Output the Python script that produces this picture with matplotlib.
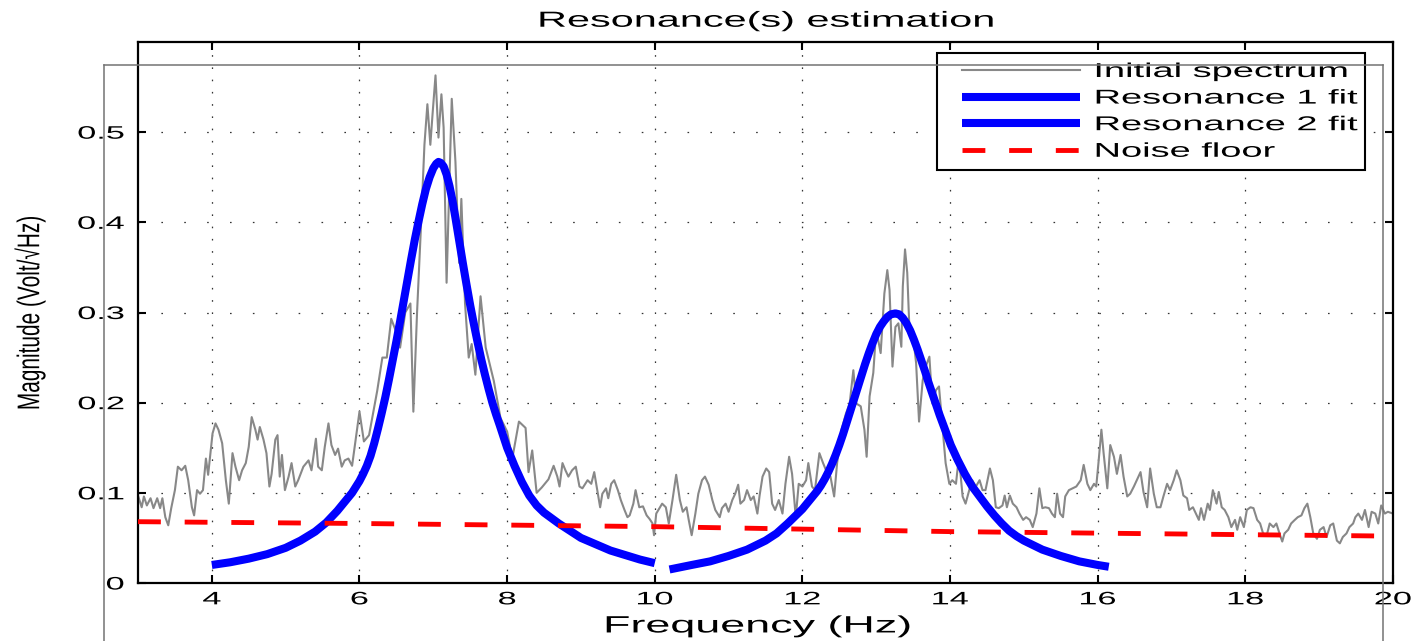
import numpy as np
import matplotlib
matplotlib.use('Agg')
import matplotlib.pyplot as plt
from matplotlib.patheffects import AbstractPathEffect
from matplotlib.transforms import Affine2D
from matplotlib.legend_handler import HandlerLine2D
from matplotlib.lines import Line2D

plt.rcParams['font.family'] = ['Liberation Sans', 'DejaVu Sans']

# ---------------- data ----------------
freq = [3.00, 3.05, 3.08, 3.12, 3.17, 3.21, 3.26, 3.30, 3.33, 3.37, 3.41, 3.45, 3.50, 3.54, 3.59, 3.64,
        3.68, 3.73, 3.76, 3.80, 3.84, 3.88, 3.92, 3.95, 4.01, 4.05, 4.09, 4.14, 4.19, 4.23, 4.28, 4.32,
        4.37, 4.41, 4.46, 4.50, 4.54, 4.59, 4.62, 4.65, 4.70, 4.74, 4.78, 4.81, 4.86, 4.89, 4.92, 4.95,
        4.99, 5.04, 5.08, 5.13, 5.17, 5.24, 5.31, 5.35, 5.41, 5.44, 5.49, 5.53, 5.58, 5.62, 5.67, 5.71,
        5.76, 5.80, 5.85, 5.90, 6.00, 6.06, 6.13, 6.24, 6.31, 6.37, 6.43, 6.49, 6.55, 6.62, 6.69, 6.73,
        6.78, 6.83, 6.88, 6.92, 6.96, 6.99, 7.03, 7.07, 7.11, 7.14, 7.18, 7.25, 7.30, 7.35, 7.38, 7.43,
        7.48, 7.52, 7.57, 7.64, 7.71, 7.82, 7.91, 8.00, 8.07, 8.16, 8.25, 8.29, 8.34, 8.40, 8.47, 8.56,
        8.63, 8.68, 8.71, 8.75, 8.79, 8.83, 8.88, 8.93, 8.98, 9.02, 9.09, 9.14, 9.18, 9.23, 9.26, 9.29,
        9.34, 9.37, 9.41, 9.45, 9.50, 9.54, 9.59, 9.63, 9.66, 9.71, 9.74, 9.79, 9.84, 9.89, 9.93, 9.97,
        9.99, 10.02, 10.07, 10.10, 10.15, 10.19, 10.24, 10.29, 10.34, 10.38, 10.43, 10.46, 10.50, 10.55,
        10.59, 10.64, 10.68, 10.73, 10.78, 10.82, 10.88, 10.91, 10.96, 11.00, 11.05, 11.09, 11.13, 11.16,
        11.21, 11.25, 11.30, 11.34, 11.39, 11.42, 11.46, 11.51, 11.55, 11.59, 11.63, 11.68, 11.73, 11.77,
        11.82, 11.86, 11.91, 11.95, 12.00, 12.05, 12.08, 12.13, 12.17, 12.23, 12.28, 12.34, 12.38, 12.43,
        12.47, 12.53, 12.59, 12.64, 12.69, 12.73, 12.79, 12.84, 12.87, 12.91, 12.96, 13.00, 13.06, 13.11,
        13.15, 13.18, 13.22, 13.26, 13.30, 13.34, 13.36, 13.39, 13.42, 13.45, 13.50, 13.54, 13.58, 13.63,
        13.67, 13.72, 13.76, 13.81, 13.85, 13.90, 13.94, 13.99, 14.03, 14.08, 14.12, 14.17, 14.21, 14.26,
        14.30, 14.35, 14.40, 14.44, 14.48, 14.54, 14.58, 14.62, 14.66, 14.71, 14.74, 14.77, 14.81, 14.85,
        14.90, 14.94, 14.99, 15.03, 15.08, 15.12, 15.17, 15.21, 15.25, 15.29, 15.34, 15.38, 15.42, 15.45,
        15.49, 15.53, 15.56, 15.61, 15.66, 15.71, 15.77, 15.81, 15.86, 15.90, 15.95, 15.98, 16.01, 16.05,
        16.08, 16.13, 16.17, 16.22, 16.26, 16.31, 16.35, 16.40, 16.44, 16.49, 16.53, 16.58, 16.62, 16.67,
        16.71, 16.76, 16.80, 16.85, 16.89, 16.94, 16.98, 17.03, 17.07, 17.12, 17.16, 17.21, 17.24, 17.29,
        17.33, 17.37, 17.40, 17.44, 17.49, 17.52, 17.56, 17.61, 17.64, 17.68, 17.72, 17.77, 17.81, 17.86,
        17.89, 17.93, 17.98, 18.02, 18.07, 18.11, 18.16, 18.20, 18.24, 18.29, 18.33, 18.38, 18.42, 18.47,
        18.50, 18.53, 18.58, 18.62, 18.67, 18.71, 18.76, 18.80, 18.84, 18.88, 18.92, 18.97, 19.01, 19.06,
        19.10, 19.15, 19.19, 19.24, 19.28, 19.32, 19.37, 19.41, 19.46, 19.49, 19.53, 19.58, 19.62, 19.67,
        19.71, 19.76, 19.80, 19.84, 19.89, 19.93, 20.00]
spectrum = [0.097, 0.084, 0.096, 0.086, 0.094, 0.083, 0.094, 0.083, 0.094, 0.073, 0.064, 0.083, 0.103, 0.129, 0.125, 0.130,
            0.114, 0.084, 0.075, 0.103, 0.099, 0.103, 0.138, 0.120, 0.166, 0.177, 0.170, 0.155, 0.114, 0.088, 0.144, 0.129,
            0.114, 0.125, 0.133, 0.151, 0.184, 0.170, 0.159, 0.173, 0.159, 0.144, 0.107, 0.121, 0.159, 0.164, 0.118, 0.142,
            0.103, 0.118, 0.133, 0.107, 0.114, 0.129, 0.136, 0.125, 0.160, 0.129, 0.125, 0.151, 0.177, 0.153, 0.142, 0.149,
            0.129, 0.136, 0.138, 0.130, 0.190, 0.157, 0.164, 0.213, 0.250, 0.250, 0.293, 0.280, 0.261, 0.300, 0.310, 0.190,
            0.300, 0.390, 0.486, 0.531, 0.486, 0.520, 0.563, 0.494, 0.542, 0.505, 0.333, 0.537, 0.467, 0.355, 0.426, 0.310,
            0.250, 0.265, 0.231, 0.318, 0.261, 0.224, 0.183, 0.168, 0.138, 0.179, 0.172, 0.123, 0.147, 0.100, 0.106, 0.115,
            0.130, 0.118, 0.107, 0.133, 0.125, 0.118, 0.125, 0.129, 0.107, 0.105, 0.114, 0.110, 0.123, 0.099, 0.084, 0.099,
            0.105, 0.094, 0.110, 0.114, 0.103, 0.092, 0.081, 0.073, 0.075, 0.088, 0.103, 0.084, 0.085, 0.075, 0.071, 0.066,
            0.053, 0.077, 0.084, 0.088, 0.084, 0.066, 0.092, 0.120, 0.092, 0.079, 0.084, 0.070, 0.053, 0.077,
            0.099, 0.114, 0.118, 0.109, 0.092, 0.081, 0.073, 0.083, 0.088, 0.079, 0.092, 0.099, 0.109, 0.088,
            0.092, 0.103, 0.092, 0.096, 0.077, 0.097, 0.118, 0.127, 0.123, 0.088, 0.081, 0.092, 0.077, 0.110,
            0.140, 0.121, 0.073, 0.110, 0.107, 0.114, 0.133, 0.107, 0.103, 0.144, 0.133, 0.121, 0.118, 0.096,
            0.133, 0.170, 0.188, 0.199, 0.236, 0.199, 0.196, 0.170, 0.140, 0.207, 0.233, 0.281, 0.255, 0.321,
            0.347, 0.325, 0.240, 0.284, 0.288, 0.262, 0.329, 0.370, 0.344, 0.281, 0.273, 0.244, 0.179, 0.225,
            0.240, 0.251, 0.199, 0.214, 0.218, 0.170, 0.133, 0.110, 0.114, 0.110, 0.140, 0.096, 0.088, 0.103,
            0.114, 0.107, 0.114, 0.103, 0.103, 0.127, 0.114, 0.084, 0.083, 0.086, 0.097, 0.084, 0.097, 0.088,
            0.084, 0.077, 0.070, 0.073, 0.070, 0.062, 0.077, 0.105, 0.083, 0.084, 0.083, 0.077, 0.073, 0.099,
            0.077, 0.073, 0.096, 0.103, 0.105, 0.107, 0.114, 0.131, 0.110, 0.103, 0.110, 0.107, 0.133, 0.170,
            0.144, 0.105, 0.153, 0.140, 0.121, 0.142, 0.118, 0.096, 0.099, 0.107, 0.114, 0.123, 0.101, 0.084,
            0.127, 0.099, 0.084, 0.084, 0.096, 0.110, 0.103, 0.114, 0.125, 0.114, 0.097, 0.094, 0.081, 0.084,
            0.077, 0.070, 0.083, 0.070, 0.088, 0.081, 0.103, 0.088, 0.101, 0.084, 0.081, 0.073, 0.062, 0.070,
            0.059, 0.073, 0.062, 0.081, 0.084, 0.083, 0.070, 0.066, 0.055, 0.053, 0.066, 0.062, 0.066, 0.053,
            0.046, 0.055, 0.059, 0.066, 0.070, 0.073, 0.075, 0.083, 0.088, 0.073, 0.055, 0.049, 0.059, 0.062,
            0.051, 0.064, 0.066, 0.047, 0.044, 0.051, 0.055, 0.062, 0.066, 0.073, 0.077, 0.070, 0.081, 0.062,
            0.079, 0.077, 0.066, 0.086, 0.077, 0.079, 0.077]

fit1_freq = [4.0, 4.25, 4.5, 4.75, 5.0, 5.2, 5.4, 5.55, 5.7, 5.8, 5.9, 6.0, 6.05, 6.1, 6.15, 6.2, 6.25,
             6.3, 6.35, 6.4, 6.45, 6.5, 6.55, 6.6, 6.65, 6.7, 6.75, 6.8, 6.85, 6.9, 6.95, 7.0, 7.04,
             7.07, 7.1, 7.14, 7.18, 7.22, 7.26, 7.3, 7.35, 7.4, 7.45, 7.5, 7.55, 7.6, 7.65, 7.7, 7.75,
             7.8, 7.85, 7.9, 8.0, 8.1, 8.2, 8.3, 8.4, 8.5, 8.6, 8.7, 8.85, 9.0, 9.2, 9.4, 9.6, 9.8, 10.0]
fit1_mag = [0.020, 0.023, 0.027, 0.032, 0.039, 0.047, 0.057, 0.067, 0.080, 0.090, 0.100, 0.113, 0.121,
            0.130, 0.141, 0.155, 0.171, 0.188, 0.206, 0.226, 0.247, 0.268, 0.290, 0.313, 0.336, 0.359,
            0.381, 0.401, 0.420, 0.437, 0.450, 0.460, 0.465, 0.467, 0.466, 0.462, 0.453, 0.440, 0.424,
            0.405, 0.380, 0.355, 0.331, 0.308, 0.287, 0.267, 0.248, 0.231, 0.215, 0.200, 0.187, 0.175,
            0.150, 0.130, 0.112, 0.097, 0.086, 0.078, 0.072, 0.066, 0.058, 0.050, 0.043, 0.036, 0.031,
            0.026, 0.022]

fit2_freq = [10.2, 10.5, 10.75, 11.0, 11.25, 11.5, 11.65, 11.8, 11.9, 12.0, 12.1, 12.2, 12.25, 12.3,
             12.35, 12.4, 12.45, 12.5, 12.55, 12.6, 12.65, 12.7, 12.75, 12.8, 12.85, 12.9, 12.95, 13.0,
             13.05, 13.1, 13.15, 13.2, 13.26, 13.31, 13.36, 13.41, 13.46, 13.51, 13.56, 13.61, 13.66,
             13.71, 13.76, 13.81, 13.86, 13.91, 13.96, 14.01, 14.1, 14.2, 14.3, 14.4, 14.5, 14.6, 14.7,
             14.8, 14.9, 15.0, 15.25, 15.5, 15.75, 16.0, 16.15]
fit2_mag = [0.015, 0.020, 0.024, 0.030, 0.037, 0.047, 0.055, 0.066, 0.074, 0.082, 0.092, 0.102, 0.108,
            0.115, 0.123, 0.132, 0.142, 0.153, 0.165, 0.178, 0.191, 0.204, 0.217, 0.230, 0.243, 0.255,
            0.266, 0.276, 0.284, 0.290, 0.295, 0.298, 0.299, 0.298, 0.294, 0.288, 0.280, 0.270, 0.259,
            0.247, 0.235, 0.222, 0.210, 0.198, 0.186, 0.175, 0.164, 0.153, 0.137, 0.121, 0.107, 0.096,
            0.085, 0.075, 0.066, 0.058, 0.052, 0.047, 0.037, 0.030, 0.024, 0.020, 0.018]

noise_freq = [3, 6, 10, 14, 18, 20]
noise_mag = [0.068, 0.066, 0.0625, 0.057, 0.0536, 0.052]

xticks = [4, 6, 8, 10, 12, 14, 16, 18, 20]
yticks = [0, 0.1, 0.2, 0.3, 0.4, 0.5]
ytick_labels = ['0', '0.1', '0.2', '0.3', '0.4', '0.5']
labels = ['Initial spectrum', 'Resonance 1 fit', 'Resonance 2 fit', 'Noise floor']

STRETCH = 1.9


class Stretch(AbstractPathEffect):
    """Widen glyphs along their baseline (sx) or across it (sy)."""
    def __init__(self, sx=1.0, sy=1.0, anchor='center'):
        super().__init__()
        self.sx, self.sy, self.anchor = sx, sy, anchor

    def draw_path(self, renderer, gc, tpath, affine, rgbFace=None):
        ext = tpath.get_extents()
        if self.anchor == 'left':
            ax_ = ext.x0
        elif self.anchor == 'right':
            ax_ = ext.x1
        else:
            ax_ = 0.5 * (ext.x0 + ext.x1)
        ay = 0.5 * (ext.y0 + ext.y1)
        t = Affine2D().translate(-ax_, -ay).scale(self.sx, self.sy).translate(ax_, ay)
        renderer.draw_path(gc, tpath, t + affine, rgbFace)


class OffsetLine(HandlerLine2D):
    def __init__(self, off, **kw):
        super().__init__(**kw)
        self.off = off

    def create_artists(self, legend, orig_handle, xdescent, ydescent, width, height, fontsize, trans):
        o = self.off * fontsize
        return super().create_artists(legend, orig_handle, xdescent - o, ydescent,
                                      width - o, height, fontsize, trans)


fig = plt.figure(figsize=(14.2, 6.41), dpi=100)
ax = fig.add_axes([138 / 1420, 58 / 641, (1393 - 138) / 1420, (583 - 42) / 641])

l0, = ax.plot(freq, spectrum, color='#888888', lw=1.5, zorder=2)
l1, = ax.plot(fit1_freq, fit1_mag, color='#0000ff', lw=5.8, solid_capstyle='butt',
              solid_joinstyle='round', zorder=3)
l2, = ax.plot(fit2_freq, fit2_mag, color='#0000ff', lw=5.8, solid_capstyle='butt',
              solid_joinstyle='round', zorder=3)
l3, = ax.plot(noise_freq, noise_mag, color='#ff0000', lw=3.5, dashes=(4.7, 4.9), zorder=4)

ax.set_xlim(3, 20)
ax.set_ylim(0, 0.6)
ax.set_xticks(xticks)
ax.set_yticks(yticks)
ax.set_yticklabels(ytick_labels)

ax.tick_params(direction='in', length=6, width=1.5, top=True, right=True, labelsize=13)
ax.tick_params(axis='x', pad=6)
ax.tick_params(axis='y', pad=10)
for s in ax.spines.values():
    s.set_linewidth(1.6)

ax.xaxis.grid(True, color='0.2', lw=0.9, dashes=(1.3, 8.5))
ax.yaxis.grid(True, color='0.2', lw=0.9, dashes=(1.3, 17))
ax.set_axisbelow(True)

for t in ax.xaxis.get_major_ticks():
    t.label1.set_path_effects([Stretch(STRETCH, 1.0, 'center')])
for t in ax.yaxis.get_major_ticks():
    t.label1.set_path_effects([Stretch(STRETCH, 1.0, 'right')])

title = ax.set_title('Resonance(s) estimation', fontsize=15.7, pad=11)
title.set_path_effects([Stretch(STRETCH, 1.0, 'center')])

xl = ax.set_xlabel('Frequency (Hz)', fontsize=17)
xl.set_path_effects([Stretch(STRETCH, 1.0, 'center')])
ax.xaxis.set_label_coords(0.494, -0.06)

yl = ax.set_ylabel('Magnitude (Volt/√Hz)', fontsize=15)
yl.set_path_effects([Stretch(1.0, 1.5, 'center')])
ax.yaxis.set_label_coords(-0.078, 0.5)

leg = ax.legend([l0, l1, l2, l3], labels, loc='upper left',
                bbox_to_anchor=(0.6367, 0.778, 0.341, 0.2017), mode='expand',
                borderaxespad=0, borderpad=0.45, fontsize=14.4, handlelength=6.7,
                handletextpad=0.75, labelspacing=0.38, fancybox=False,
                edgecolor='black', framealpha=1,
                handler_map={Line2D: OffsetLine(0.8)})
leg.get_frame().set_linewidth(1.5)
for t in leg.get_texts():
    t.set_path_effects([Stretch(STRETCH, 1.0, 'left')])

# frame of the embedded screenshot overlay visible in the reference
fx0, fx1, fy = 104 / 1420, 1383 / 1420, 1 - 65 / 641
for xs, ys in [([fx0, fx1], [fy, fy]), ([fx0, fx0], [fy, 0]), ([fx1, fx1], [fy, 0])]:
    fig.add_artist(Line2D(xs, ys, transform=fig.transFigure, color='0.45', lw=1.1, zorder=10))

fig.savefig('out.png', dpi=100, facecolor='white')
